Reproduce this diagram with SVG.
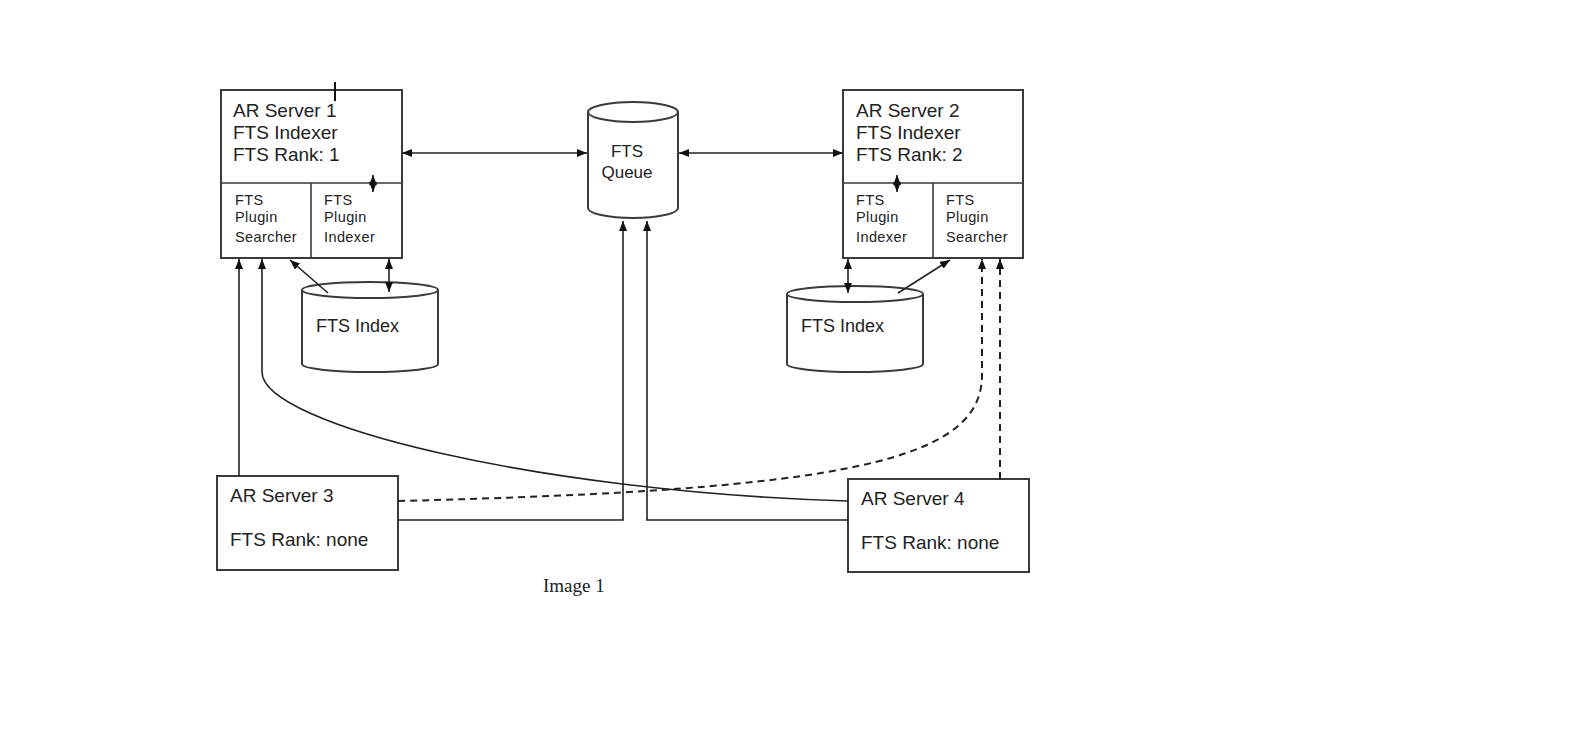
<svg xmlns="http://www.w3.org/2000/svg" width="1576" height="735" viewBox="0 0 1576 735">
<style>
.box{fill:#fff;stroke:#3a3a3a;stroke-width:2}
.div{fill:none;stroke:#3a3a3a;stroke-width:1.6}
.cyl{fill:#fff;stroke:#3a3a3a;stroke-width:2}
.t{font-family:"Liberation Sans",Arial,sans-serif;font-size:19px;fill:#222}
.ti{font-family:"Liberation Sans",Arial,sans-serif;font-size:18px;fill:#222}
.tq{font-family:"Liberation Sans",Arial,sans-serif;font-size:17px;fill:#222;text-anchor:middle}
.ts{font-family:"Liberation Sans",Arial,sans-serif;font-size:14.5px;letter-spacing:0.4px;fill:#222}
.cap{font-family:"Liberation Serif","Times New Roman",serif;font-size:19px;fill:#222}
.c{fill:none;stroke:#222;stroke-width:1.6}
.d{fill:none;stroke:#222;stroke-width:2;stroke-dasharray:7 5}
</style>
<defs>
<marker id="ah" viewBox="0 0 10 8" refX="10" refY="4" markerWidth="10" markerHeight="8" markerUnits="userSpaceOnUse" orient="auto-start-reverse">
<path d="M0,0 L10,4 L0,8 z" fill="#111"/>
</marker>
</defs>
<rect width="1576" height="735" fill="#fff"/>

<g id="ar-server-1">
<rect class="box" x="221" y="90" width="181" height="168"/>
<line class="div" x1="221" y1="183" x2="402" y2="183"/>
<line class="div" x1="311" y1="183" x2="311" y2="258"/>
<text class="t" x="233" y="117">AR Server 1</text>
<text class="t" x="233" y="139">FTS Indexer</text>
<text class="t" x="233" y="161">FTS Rank: 1</text>
<text class="ts" x="235" y="205">FTS</text>
<text class="ts" x="235" y="222">Plugin</text>
<text class="ts" x="235" y="242">Searcher</text>
<text class="ts" x="324" y="205">FTS</text>
<text class="ts" x="324" y="222">Plugin</text>
<text class="ts" x="324" y="242">Indexer</text>
</g>

<g id="ar-server-2">
<rect class="box" x="843" y="90" width="180" height="168"/>
<line class="div" x1="843" y1="183" x2="1023" y2="183"/>
<line class="div" x1="933" y1="183" x2="933" y2="258"/>
<text class="t" x="856" y="117">AR Server 2</text>
<text class="t" x="856" y="139">FTS Indexer</text>
<text class="t" x="856" y="161">FTS Rank: 2</text>
<text class="ts" x="856" y="205">FTS</text>
<text class="ts" x="856" y="222">Plugin</text>
<text class="ts" x="856" y="242">Indexer</text>
<text class="ts" x="946" y="205">FTS</text>
<text class="ts" x="946" y="222">Plugin</text>
<text class="ts" x="946" y="242">Searcher</text>
</g>

<g id="fts-queue">
<path class="cyl" d="M588,112 A45,10 0 0 1 678,112 V208 A45,10 0 0 1 588,208 Z"/>
<path class="cyl" d="M588,112 A45,10 0 0 0 678,112" fill="none"/>
<text class="tq" x="627" y="157">FTS</text>
<text class="tq" x="627" y="178">Queue</text>
</g>

<g id="fts-index-1">
<path class="cyl" d="M302,290 A68,8 0 0 1 438,290 V364 A68,8 0 0 1 302,364 Z"/>
<path class="cyl" d="M302,290 A68,8 0 0 0 438,290" fill="none"/>
<text class="ti" x="316" y="332">FTS Index</text>
</g>

<g id="fts-index-2">
<path class="cyl" d="M787,294 A68,8 0 0 1 923,294 V364 A68,8 0 0 1 787,364 Z"/>
<path class="cyl" d="M787,294 A68,8 0 0 0 923,294" fill="none"/>
<text class="ti" x="801" y="332">FTS Index</text>
</g>

<g id="ar-server-3">
<rect class="box" x="217" y="476" width="181" height="94"/>
<text class="t" x="230" y="502">AR Server 3</text>
<text class="t" x="230" y="546">FTS Rank: none</text>
</g>

<g id="ar-server-4">
<rect class="box" x="848" y="479" width="181" height="93"/>
<text class="t" x="861" y="505">AR Server 4</text>
<text class="t" x="861" y="549">FTS Rank: none</text>
</g>

<g id="connectors">
<line x1="335" y1="82" x2="335" y2="101" stroke="#111" stroke-width="2"/>
<line class="c" x1="373" y1="175" x2="373" y2="192" marker-start="url(#ah)" marker-end="url(#ah)"/>
<line class="c" x1="897" y1="175" x2="897" y2="192" marker-start="url(#ah)" marker-end="url(#ah)"/>
<line class="c" x1="402" y1="153" x2="587" y2="153" marker-start="url(#ah)" marker-end="url(#ah)"/>
<line class="c" x1="679" y1="153" x2="843" y2="153" marker-start="url(#ah)" marker-end="url(#ah)"/>
<line class="c" x1="389" y1="259" x2="389" y2="292" marker-start="url(#ah)" marker-end="url(#ah)"/>
<line class="c" x1="328" y1="293" x2="290" y2="260" marker-end="url(#ah)"/>
<line class="c" x1="848" y1="259" x2="848" y2="293" marker-start="url(#ah)" marker-end="url(#ah)"/>
<line class="c" x1="898" y1="293" x2="950" y2="260" marker-end="url(#ah)"/>
<path class="c" d="M239,476 V259" marker-end="url(#ah)"/>
<path class="c" d="M848,501 C540,492 262,425 262,372 V259" marker-end="url(#ah)"/>
<path class="c" d="M398,520 H623 V221" marker-end="url(#ah)"/>
<path class="c" d="M848,520 H647 V221" marker-end="url(#ah)"/>
<path class="d" d="M398,501 C850,490 982,460 982,375 V259" marker-end="url(#ah)"/>
<path class="d" d="M1000,479 V259" marker-end="url(#ah)"/>
</g>

<text class="cap" x="543" y="592">Image 1</text>
</svg>
